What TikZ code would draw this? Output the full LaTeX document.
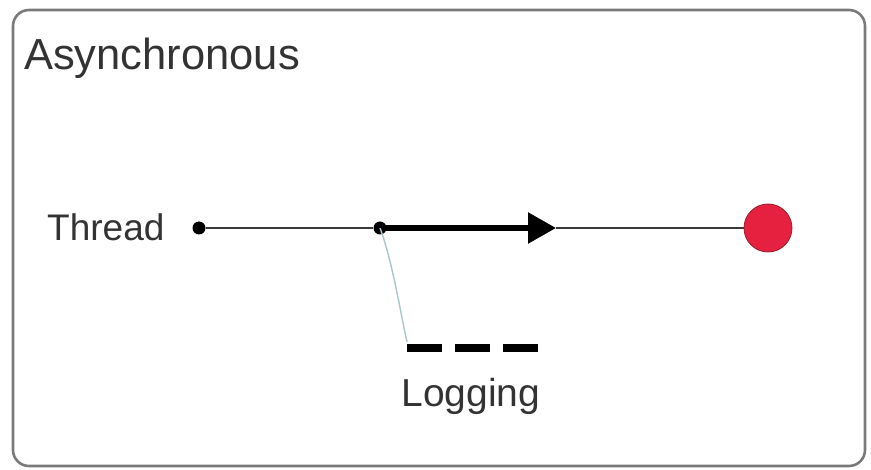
\documentclass[tikz,border=0pt]{standalone}
\usepackage{fontspec}
\setmainfont{Liberation Sans}
\usetikzlibrary{arrows.meta}
\definecolor{framegray}{HTML}{7A7A7A}
\definecolor{txtgray}{HTML}{333333}
\definecolor{linegray}{HTML}{3A3A3A}
\definecolor{endred}{HTML}{E5213F}
\definecolor{endrim}{HTML}{9A1A2C}
\definecolor{branchcol}{HTML}{A9C6CC}
\begin{document}
\begin{tikzpicture}[x=1pt,y=-1pt,
  frame/.style={draw=framegray,line width=2.6pt,rounded corners=16pt,fill=white},
  label/.style={text=txtgray,inner sep=0pt,font=\fontsize{37}{40}\selectfont},
  pt/.style={circle,fill=black,inner sep=0pt,minimum size=13pt},
  thin/.style={draw=linegray,line width=2.2pt},
  bold/.style={draw=black,line width=5.5pt,-{Triangle[length=28pt,width=30pt]}},
  dashbar/.style={draw=black,line width=8.5pt,dash pattern=on 35pt off 13pt},
  branch/.style={draw=branchcol,line width=1.4pt},
  endpoint/.style={circle,fill=endred,draw=endrim,line width=0.8pt,inner sep=0pt,minimum size=48pt}]
  \useasboundingbox (0,0) rectangle (871,470);
  \fill[white] (0,0) rectangle (871,470);
  \draw[frame] (13,10) rectangle (865,466);

  \node[label,anchor=base west,font=\fontsize{43.5}{47}\selectfont] (title) at (24,70) {Asynchronous};

  \node[label,anchor=base west] (threadlbl) at (47,241) {Thread};
  \node[pt] (start) at (199,228) {};
  \node[pt] (fork) at (380,228) {};
  \coordinate (tip) at (556,228);
  \node[endpoint] (done) at (768,228) {};

  \draw[thin] (start) -- (fork);
  \draw[bold] (fork.center) -- (tip);
  \draw[thin] (tip) -- (done);

  \coordinate (logL) at (407,348);
  \coordinate (logR) at (538,348);
  \draw[branch] (fork.center) .. controls (392,260) and (400,310) .. (407,342);
  \draw[dashbar] (logL) -- (logR);
  \node[label,anchor=base,font=\fontsize{39}{42}\selectfont] (logging) at (471,407) {Logging};
\end{tikzpicture}
\end{document}
